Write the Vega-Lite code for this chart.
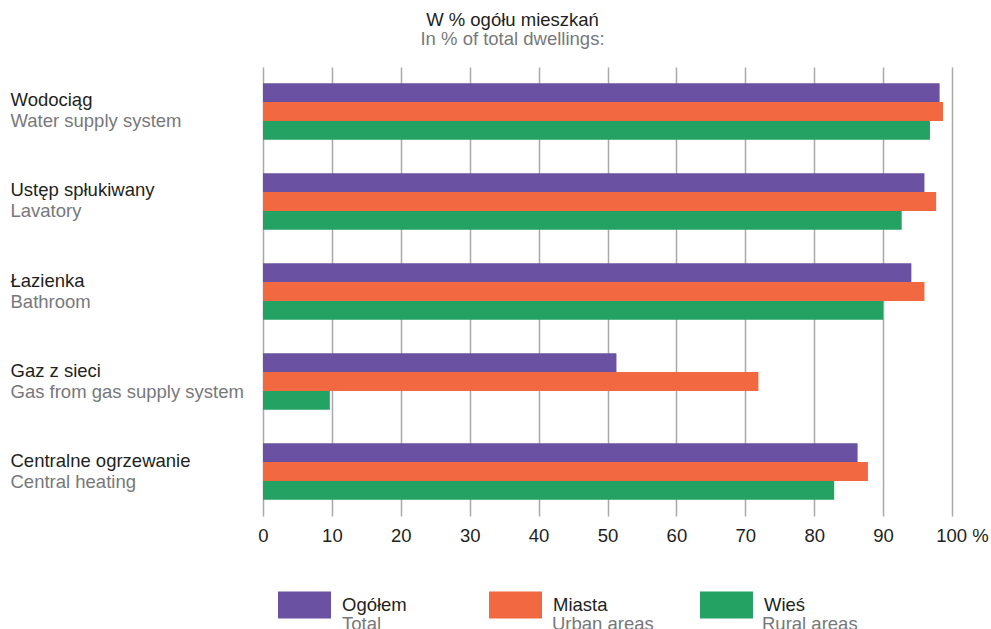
{
  "$schema": "https://vega.github.io/schema/vega-lite/v6.json",
  "width": 689,
  "height": 449,
  "autosize": {"type": "none"},
  "padding": {"left": 263, "top": 67, "right": 39, "bottom": 113},
  "background": "white",
  "config": {"font": "Liberation Sans", "view": {"stroke": null}},
  "title": {
    "text": "W % ogółu mieszkań",
    "subtitle": "In % of total dwellings:",
    "fontSize": 18.5,
    "fontWeight": "normal",
    "color": "#231F20",
    "subtitleFontSize": 18.5,
    "subtitleColor": "#77787B",
    "subtitlePadding": 0,
    "anchor": "middle",
    "frame": "group",
    "dx": -95,
    "offset": 19
  },
  "data": {
    "values": [
      {"cat": "Wodociąg", "series": "Ogółem", "series_en": "Total", "value": 98.2},
      {"cat": "Wodociąg", "series": "Miasta", "series_en": "Urban areas", "value": 98.7},
      {"cat": "Wodociąg", "series": "Wieś", "series_en": "Rural areas", "value": 96.8},
      {"cat": "Ustęp spłukiwany", "series": "Ogółem", "series_en": "Total", "value": 96.0},
      {"cat": "Ustęp spłukiwany", "series": "Miasta", "series_en": "Urban areas", "value": 97.7},
      {"cat": "Ustęp spłukiwany", "series": "Wieś", "series_en": "Rural areas", "value": 92.7},
      {"cat": "Łazienka", "series": "Ogółem", "series_en": "Total", "value": 94.1},
      {"cat": "Łazienka", "series": "Miasta", "series_en": "Urban areas", "value": 96.0},
      {"cat": "Łazienka", "series": "Wieś", "series_en": "Rural areas", "value": 90.0},
      {"cat": "Gaz z sieci", "series": "Ogółem", "series_en": "Total", "value": 51.3},
      {"cat": "Gaz z sieci", "series": "Miasta", "series_en": "Urban areas", "value": 71.9},
      {"cat": "Gaz z sieci", "series": "Wieś", "series_en": "Rural areas", "value": 9.7},
      {"cat": "Centralne ogrzewanie", "series": "Ogółem", "series_en": "Total", "value": 86.3},
      {"cat": "Centralne ogrzewanie", "series": "Miasta", "series_en": "Urban areas", "value": 87.8},
      {"cat": "Centralne ogrzewanie", "series": "Wieś", "series_en": "Rural areas", "value": 82.9}
    ]
  },
  "layer": [
    {
      "mark": {"type": "bar"},
      "encoding": {
        "y": {
          "field": "cat",
          "type": "nominal",
          "sort": ["Wodociąg", "Ustęp spłukiwany", "Łazienka", "Gaz z sieci", "Centralne ogrzewanie"],
          "scale": {"paddingInner": 0.372, "paddingOuter": 0.18},
          "axis": {
            "orient": "left",
            "title": null,
            "domain": false,
            "ticks": false,
            "tickSize": 0,
            "grid": false,
            "labelAlign": "left",
            "labelBaseline": "alphabetic",
            "labelPadding": 253,
            "labelOffset": -5,
            "labelFontSize": 18.5,
            "labelColor": "#231F20",
            "labelLimit": 300
          }
        },
        "x": {
          "field": "value",
          "type": "quantitative",
          "scale": {"domain": [0, 100], "nice": false},
          "axis": {
            "title": null,
            "domain": false,
            "ticks": false,
            "tickSize": 0,
            "grid": true,
            "gridColor": "#A7A9AC",
            "gridWidth": 1.5,
            "values": [0, 10, 20, 30, 40, 50, 60, 70, 80, 90, 100],
            "labelFontSize": 18.5,
            "labelColor": "#231F20",
            "labelPadding": 10,
            "labelFlush": false,
            "labelOverlap": false,
            "labelExpr": "datum.value == 100 ? '100 %' : datum.label",
            "labelOffset": {"condition": {"test": "datum.value == 100", "value": 10}, "value": 0}
          }
        },
        "yOffset": {
          "field": "series",
          "type": "nominal",
          "sort": ["Ogółem", "Miasta", "Wieś"],
          "scale": {"paddingInner": 0, "paddingOuter": 0}
        },
        "color": {
          "field": "series",
          "type": "nominal",
          "scale": {"domain": ["Ogółem", "Miasta", "Wieś"], "range": ["#6B51A1", "#F26841", "#23A263"]},
          "legend": {
            "orient": "none",
            "legendX": 15,
            "legendY": 511,
            "direction": "horizontal",
            "columns": 3,
            "gridAlign": "all",
            "columnPadding": 82,
            "padding": 0,
            "title": null,
            "symbolType": "M-1,-0.51H1V0.51H-1Z",
            "symbolSize": 2809,
            "symbolStrokeWidth": 0,
            "symbolOpacity": 1,
            "labelFontSize": 18.5,
            "labelColor": "#231F20",
            "labelOffset": 11,
            "labelLimit": 300
          }
        }
      }
    },
    {
      "mark": {"type": "bar", "opacity": 0},
      "encoding": {
        "y": {
          "field": "cat",
          "type": "nominal",
          "sort": ["Wodociąg", "Ustęp spłukiwany", "Łazienka", "Gaz z sieci", "Centralne ogrzewanie"],
          "axis": {
            "orient": "left",
            "title": null,
            "domain": false,
            "ticks": false,
            "tickSize": 0,
            "grid": false,
            "labelAlign": "left",
            "labelBaseline": "alphabetic",
            "labelPadding": 253,
            "labelOffset": 16,
            "labelFontSize": 18.5,
            "labelColor": "#77787B",
            "labelLimit": 300,
            "labelExpr": "datum.label == 'Wodociąg' ? 'Water supply system' : datum.label == 'Ustęp spłukiwany' ? 'Lavatory' : datum.label == 'Łazienka' ? 'Bathroom' : datum.label == 'Gaz z sieci' ? 'Gas from gas supply system' : 'Central heating'"
          }
        },
        "x": {
          "field": "value",
          "type": "quantitative",
          "scale": {"domain": [0, 100], "nice": false},
          "axis": {
            "title": null,
            "domain": false,
            "ticks": false,
            "tickSize": 0,
            "grid": true,
            "gridColor": "#A7A9AC",
            "gridWidth": 1.5,
            "values": [0, 10, 20, 30, 40, 50, 60, 70, 80, 90, 100],
            "labelFontSize": 18.5,
            "labelColor": "#231F20",
            "labelPadding": 10,
            "labelFlush": false,
            "labelOverlap": false,
            "labelExpr": "datum.value == 100 ? '100 %' : datum.label",
            "labelOffset": {"condition": {"test": "datum.value == 100", "value": 10}, "value": 0}
          }
        },
        "stroke": {
          "field": "series_en",
          "type": "nominal",
          "scale": {"domain": ["Total", "Urban areas", "Rural areas"], "range": ["#6B51A1", "#F26841", "#23A263"]},
          "legend": {
            "orient": "none",
            "legendX": 15,
            "legendY": 530,
            "direction": "horizontal",
            "columns": 3,
            "gridAlign": "all",
            "columnPadding": 44,
            "padding": 0,
            "title": null,
            "symbolType": "M-1,-0.51H1V0.51H-1Z",
            "symbolSize": 2809,
            "symbolStrokeWidth": 0,
            "symbolOpacity": 0,
            "labelFontSize": 18.5,
            "labelColor": "#77787B",
            "labelOffset": 11,
            "labelLimit": 300
          }
        }
      }
    }
  ],
  "resolve": {"axis": {"y": "independent"}}
}
